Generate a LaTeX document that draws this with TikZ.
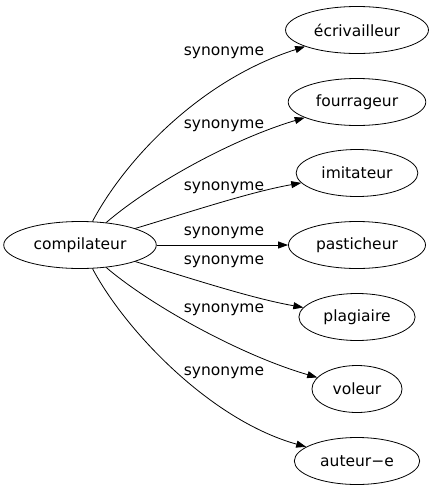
\documentclass[tikz,border=0pt]{standalone}
\usepackage{fontspec}
\setmainfont{DejaVu Sans}
\usetikzlibrary{arrows.meta, shapes.geometric}

\tikzset{
    word/.style={draw, ellipse, line width=0.8pt, inner xsep=7.5pt,
        minimum height=47pt, font=\fontsize{15.5}{18}\selectfont},
    syn/.style={font=\fontsize{15.5}{18}\selectfont, inner sep=0pt},
    rel/.style={line width=0.8pt, -{Triangle[length=10pt,width=7pt]}}
}

\begin{document}
\begin{tikzpicture}[x=1pt,y=-1pt]
        \useasboundingbox (0,0) rectangle (436,491);
        \node[word] (comp) at (80,245) {compilateur};
        \foreach \n/\w/\y in {ecr/écrivailleur/30, four/fourrageur/102, imit/imitateur/173,
            past/pasticheur/245, plag/plagiaire/317, vol/voleur/389, aut/auteur−e/461} {
            \node[word] (\n) at (357,\y) {\w};
        }
        \draw[rel] (comp) .. controls (125,160) and (200,80) .. (ecr);
        \draw[rel] (comp) .. controls (150,185) and (230,140) .. (four);
        \draw[rel] (comp) .. controls (190,212) and (250,192) .. (imit);
        \draw[rel] (comp) -- (past);
        \draw[rel] (comp) .. controls (190,278) and (250,298) .. (plag);
        \draw[rel] (comp) .. controls (150,305) and (240,355) .. (vol);
        \draw[rel] (comp) .. controls (125,330) and (210,420) .. (aut);
        % labels
        \foreach \k/\y in {1/53, 2/126, 3/188, 4/233, 5/262, 6/310, 7/373} {
            \node[syn] (lab\k) at (224,\y) {synonyme};
        }
    \end{tikzpicture}
\end{document}
